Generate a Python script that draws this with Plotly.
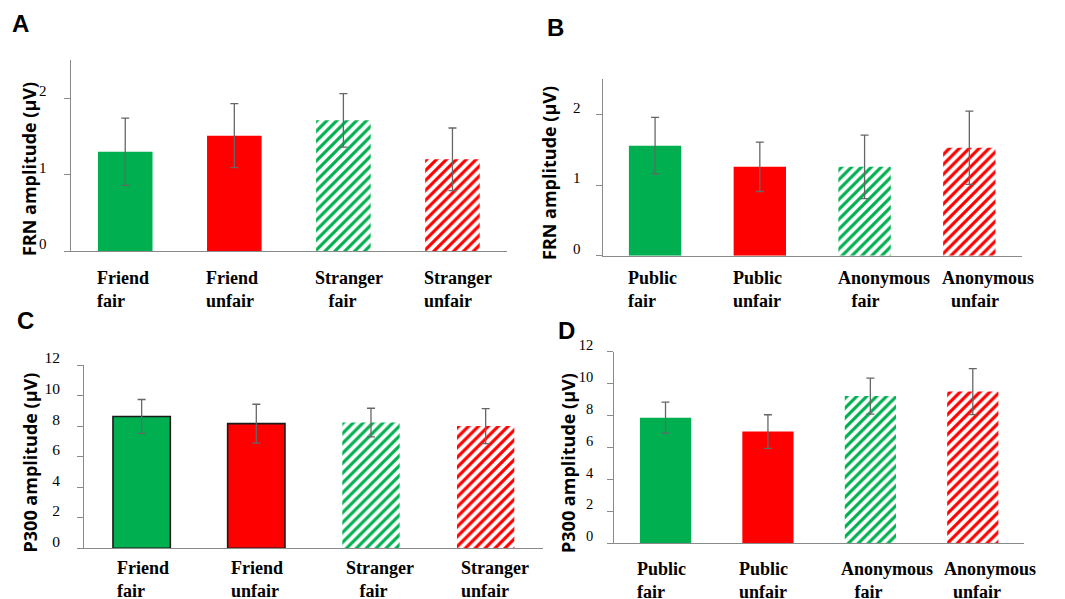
import plotly.graph_objects as go

# ---- data -------------------------------------------------------------
labels_ac = ["Friend<br>fair", "Friend<br>unfair",
             "Stranger<br>\u00a0\u00a0\u00a0fair", "Stranger<br>unfair"]
labels_bd = ["Public<br>fair", "Public<br>unfair",
             "Anonymous<br>\u00a0\u00a0\u00a0fair", "Anonymous<br>\u00a0\u00a0unfair"]

frn_friend = [1.30, 1.51, 1.71, 1.20]
frn_friend_err = [0.44, 0.42, 0.35, 0.41]

frn_public = [1.56, 1.26, 1.26, 1.53]
frn_public_err = [0.40, 0.35, 0.45, 0.52]

p300_friend = [8.63, 8.16, 8.23, 8.00]
p300_friend_err = [1.11, 1.27, 0.94, 1.15]

p300_public = [7.87, 7.00, 9.22, 9.50]
p300_public_err = [0.97, 1.05, 1.13, 1.44]

frn_ticks = [0, 1, 2]
p300_ticks = [0, 2, 4, 6, 8, 10, 12]

# ---- styling ----------------------------------------------------------
W, H = 1065, 599
GREEN = "#00B050"
RED = "#FF0000"
AXIS = "#8a8a8a"
ERR = "#666666"
bar_colors = [GREEN, RED, GREEN, RED]
hatched = [False, False, True, True]


def xdom(left, right):
    return [left / W, right / W]


def ydom(top, bottom):
    return [1 - bottom / H, 1 - top / H]


panels = [
    dict(key="A", vals=frn_friend, errs=frn_friend_err, labels=labels_ac,
         yr=2.5, ticks=frn_ticks, title="FRN amplitude (μV)",
         xpx=(70.7, 507), ypx=(60, 251), outline=False, standoff=14,
         tsize=15, letter=(20, 24), tpos=(29, 169), laby=289, labshift=-30),
    dict(key="B", vals=frn_public, errs=frn_public_err, labels=labels_bd,
         yr=2.5, ticks=frn_ticks, title="FRN amplitude (μV)",
         xpx=(602.7, 1021.7), ypx=(79.3, 255.7), outline=False, standoff=12,
         tsize=15, letter=(555, 27), tpos=(549, 173), laby=289, labshift=-29),
    dict(key="C", vals=p300_friend, errs=p300_friend_err, labels=labels_ac,
         yr=12, ticks=p300_ticks, title="P300 amplitude (μV)",
         xpx=(84.3, 543), ypx=(365, 548.3), outline=True, standoff=14,
         tsize=15.5, letter=(25, 320), tpos=(29, 462.5), laby=579, labshift=-27),
    dict(key="D", vals=p300_public, errs=p300_public_err, labels=labels_bd,
         yr=12, ticks=p300_ticks, title="P300 amplitude (μV)",
         xpx=(614.3, 1024), ypx=(351.7, 543.3), outline=False, standoff=11,
         tsize=14.5, letter=(566.7, 330), tpos=(568, 463), laby=580, labshift=-31),
]

fig = go.Figure()
annotations = []

for i, p in enumerate(panels):
    n = "" if i == 0 else str(i + 1)
    xa, ya = "x" + n, "y" + n
    cats = list(range(len(p["vals"])))

    for j, (v, e) in enumerate(zip(p["vals"], p["errs"])):
        if hatched[j]:
            marker = dict(color="white",
                          pattern=dict(shape="/", fgcolor=bar_colors[j],
                                       bgcolor="white", fgopacity=1,
                                       size=7, solidity=0.45,
                                       fillmode="overlay"),
                          line=dict(width=0))
        else:
            marker = dict(color=bar_colors[j],
                          line=dict(color="#1a1a1a" if p["outline"] else bar_colors[j],
                                    width=1.6 if p["outline"] else 0))
        fig.add_trace(go.Bar(
            x=[cats[j]], y=[v], width=0.5, marker=marker,
            error_y=dict(type="data", array=[e], color=ERR, thickness=1.3, width=4),
            xaxis=xa, yaxis=ya, showlegend=False, hoverinfo="skip",
        ))

    fig.layout[("xaxis" + n)] = dict(
        domain=xdom(*p["xpx"]), range=[-0.5, len(cats) - 0.5],
        showline=True, linecolor=AXIS, linewidth=1.3, showticklabels=False,
        ticks="", showgrid=False, zeroline=False, fixedrange=True,
        automargin=False, anchor=ya,
    )
    fig.layout[("yaxis" + n)] = dict(
        domain=ydom(*p["ypx"]), range=[0, p["yr"]],
        showline=True, linecolor=AXIS, linewidth=1.3,
        ticks="outside", ticklen=6, tickcolor=AXIS, tickwidth=1.2,
        tickvals=p["ticks"], ticktext=[str(t) for t in p["ticks"]],
        tickfont=dict(family="Liberation Serif", size=p["tsize"], color="#000"),
        ticklabelstandoff=p["standoff"], ticklabelshift=-7,
        showgrid=False, zeroline=False, fixedrange=True,
        automargin=False, anchor=xa,
    )

    # panel letter
    annotations.append(dict(
        text=p["key"], xref="paper", yref="paper",
        x=p["letter"][0] / W, y=1 - p["letter"][1] / H,
        xanchor="center", yanchor="middle", showarrow=False,
        font=dict(family="Liberation Sans", size=24, color="black", weight="bold"),
    ))
    # axis title
    annotations.append(dict(
        text=p["title"], xref="paper", yref="paper",
        x=p["tpos"][0] / W, y=1 - p["tpos"][1] / H, textangle=-90,
        xanchor="center", yanchor="middle", showarrow=False,
        font=dict(family="Open Sans", size=18, color="black", weight="bold"),
    ))
    # category labels
    for j, lab in enumerate(p["labels"]):
        annotations.append(dict(
            text=lab, xref=xa, yref="paper", x=cats[j], y=1 - p["laby"] / H,
            xanchor="left", yanchor="middle", align="left", xshift=p["labshift"],
            showarrow=False,
            font=dict(family="Liberation Serif", size=18, color="black", weight="bold"),
        ))

fig.update_layout(
    width=W, height=H, margin=dict(l=0, r=0, t=0, b=0, autoexpand=False),
    paper_bgcolor="white", plot_bgcolor="white",
    annotations=annotations, bargap=0.5,
)

fig.write_html("out.html",
               post_script="document.body.style.margin='0';")
